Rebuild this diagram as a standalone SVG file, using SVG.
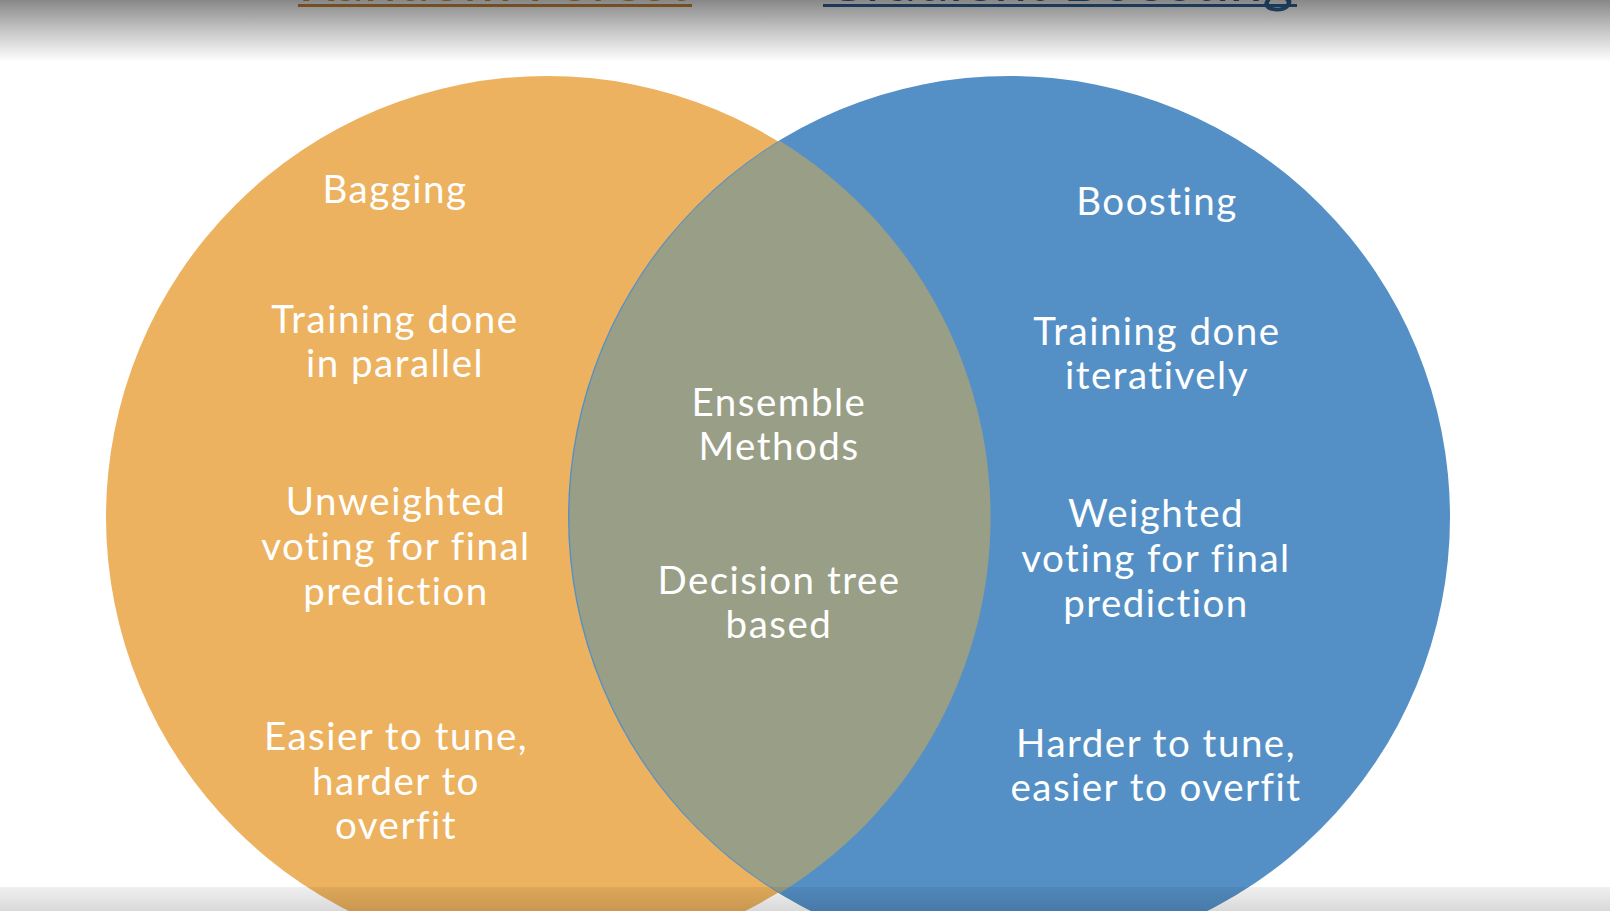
<svg xmlns="http://www.w3.org/2000/svg" width="1610" height="911" viewBox="0 0 1610 911">
<defs>
<style>
.t{font-family:Lato,"Open Sans","Liberation Sans",sans-serif;font-size:38.5px;fill:#ffffff;text-anchor:middle;letter-spacing:1.5px}
.title{font-family:Lato,"Liberation Sans",sans-serif;font-size:59px}
</style>
<linearGradient id="topShade" x1="0" y1="0" x2="0" y2="1">
<stop offset="0" stop-color="#000" stop-opacity="0.47"/>
<stop offset="0.5" stop-color="#000" stop-opacity="0.22"/>
<stop offset="1" stop-color="#000" stop-opacity="0"/>
</linearGradient>
<linearGradient id="botShade" x1="0" y1="0" x2="0" y2="1">
<stop offset="0" stop-color="#000" stop-opacity="0.06"/>
<stop offset="1" stop-color="#000" stop-opacity="0.15"/>
</linearGradient>
</defs>
<rect x="0" y="0" width="1610" height="911" fill="#ffffff"/>
<g id="titles">
<text class="title" x="298" y="1" fill="#D8943C">Random Forest</text>
<rect x="298" y="4" width="394" height="3" fill="#C8893E"/>
<text class="title" x="823" y="1" fill="#2F6496">Gradient Boosting</text>
<rect x="823" y="4" width="474" height="3" fill="#2F6496"/>
</g>
<g id="random-forest-circle">
<circle cx="547" cy="517" r="441" fill="#ECB25F"/>
</g>
<g id="boosting-circle">
<circle cx="1009" cy="517" r="441" fill="#5490C6"/>
</g>
<g id="overlap">
<path d="M780 141 A441 441 0 0 1 780 893 A441 441 0 0 1 780 141 Z" fill="#999E86"/>
</g>
<g id="connectors"></g>
<g id="bagging-text">
<text class="t" x="395" y="203">Bagging</text>
<text class="t" x="395" y="333">Training done</text>
<text class="t" x="395" y="377">in parallel</text>
<text class="t" x="396" y="515">Unweighted</text>
<text class="t" x="396" y="560">voting for final</text>
<text class="t" x="396" y="605">prediction</text>
<text class="t" x="396" y="750">Easier to tune,</text>
<text class="t" x="396" y="795">harder to</text>
<text class="t" x="396" y="839">overfit</text>
</g>
<g id="shared-text">
<text class="t" x="779" y="416">Ensemble</text>
<text class="t" x="779" y="460">Methods</text>
<text class="t" x="779" y="594">Decision tree</text>
<text class="t" x="779" y="638">based</text>
</g>
<g id="boosting-text">
<text class="t" x="1157" y="215">Boosting</text>
<text class="t" x="1157" y="345">Training done</text>
<text class="t" x="1157" y="389">iteratively</text>
<text class="t" x="1156" y="527">Weighted</text>
<text class="t" x="1156" y="572">voting for final</text>
<text class="t" x="1156" y="617">prediction</text>
<text class="t" x="1156" y="757">Harder to tune,</text>
<text class="t" x="1156" y="801">easier to overfit</text>
</g>
<rect x="0" y="0" width="1610" height="62" fill="url(#topShade)"/>
<rect x="0" y="887" width="1610" height="24" fill="url(#botShade)"/>
</svg>
